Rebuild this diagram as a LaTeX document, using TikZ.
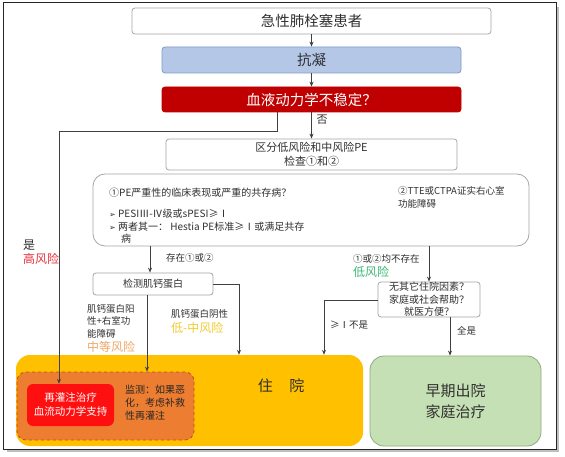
\documentclass[tikz,border=0pt]{standalone}
\usepackage{fontspec}
\setmainfont{Noto Sans CJK SC}
\newfontfamily\dejavu{DejaVu Sans}
\usetikzlibrary{arrows.meta,calc}
\definecolor{linec}{HTML}{404040}
\definecolor{txt}{HTML}{303030}
\definecolor{boxborder}{HTML}{A6A6A6}
\definecolor{blueF}{HTML}{B4C7E7}
\definecolor{blueD}{HTML}{7F9CC8}
\definecolor{redD}{HTML}{C00000}
\definecolor{yel}{HTML}{FFC000}
\definecolor{orangeF}{HTML}{ED7D31}
\definecolor{orangeD}{HTML}{B85412}
\definecolor{redB}{HTML}{FF1010}
\definecolor{greenF}{HTML}{C5E0B4}
\definecolor{greenD}{HTML}{8DAE7A}
\definecolor{hiRed}{HTML}{E5323B}
\definecolor{lowG}{HTML}{3CB878}
\definecolor{midO}{HTML}{F0A868}
\definecolor{lmY}{HTML}{F2CC30}
\tikzset{
  box/.style={draw=boxborder, line width=0.8pt, fill=white, rounded corners=3pt, inner sep=0pt, text=txt},
  conn/.style={draw=linec, line width=0.8pt},
  arr/.style={conn, -{Stealth[length=5pt,width=4pt]}},
  lbl/.style={inner sep=0pt, text=txt, font=\fontsize{9.5}{12.5}\selectfont, align=left},
  crit/.style={lbl, font=\fontsize{10}{12.5}\selectfont},
  big/.style={font=\fontsize{14.5}{17}\selectfont},
}
\begin{document}
\begin{tikzpicture}[x=1pt,y=-1pt]
\useasboundingbox (0,0) rectangle (565,457);
% frame with shadow
\fill[black!25] (7,7) rectangle (559,452);
\draw[fill=white, line width=1pt, draw=black!85] (3,3) rectangle (556,449);

% top chain
\node[box, big, minimum width=359pt, minimum height=26pt] (n1) at (311.5,21) {急性肺栓塞患者};
\node[box, big, fill=blueF, draw=blueD, minimum width=299pt, minimum height=26pt] (n2) at (311.5,60) {抗凝};
\node[box, big, fill=redD, draw=redD, text=white, minimum width=299pt, minimum height=25pt] (n3) at (311.5,99.5) {血液动力学不稳定？};
\node[box, font=\fontsize{11}{14}\selectfont, align=center, minimum width=291pt, minimum height=31pt] (n4) at (311.5,154.5) {区分低风险和中风险PE\\检查①和②};

% big criteria box
\node[box, rounded corners=12pt, minimum width=436pt, minimum height=72pt] (n5) at (311,210) {};
\node[crit, anchor=west] (t1) at (109,193) {①PE严重性的临床表现或严重的共存病？};
\node[crit, anchor=west] (t2) at (109,214) {{\dejavu\fontsize{8}{10}\selectfont ➢} PESIⅢ-Ⅳ级或sPESI≥Ⅰ};
\node[crit, anchor=west] (t3) at (109,226.5) {{\dejavu\fontsize{8}{10}\selectfont ➢} 两者其一： Hestia PE标准≥Ⅰ或满足共存};
\node[crit, anchor=west] (t4) at (121,238.5) {病};
\node[lbl, anchor=west] (t5) at (398,197.5) {②TTE或CTPA证实右心室\\功能障碍};

% troponin & discharge question
\node[box, font=\fontsize{10}{12}\selectfont, minimum width=120pt, minimum height=22pt] (n6) at (153,284) {检测肌钙蛋白};
\node[box, font=\fontsize{10}{12.5}\selectfont, align=center, minimum width=102pt, minimum height=35pt] (n7) at (429,299.5) {无其它住院因素？\\家庭或社会帮助？\\就医方便？};

% bottom boxes
\node[fill=yel, rounded corners=14pt, minimum width=347pt, minimum height=91pt, inner sep=0pt] (n8) at (189.5,400.5) {};
\node[inner sep=0pt, text=txt, font=\fontsize{15}{18}\selectfont] (zy) at (281,386) {住\hspace{1.1em}院};
\node[fill=orangeF, draw=orangeD, dashed, line width=0.8pt, rounded corners=9pt, minimum width=177pt, minimum height=68pt, inner sep=0pt] (n9) at (105.5,406) {};
\node[fill=redB, rounded corners=6pt, minimum width=87pt, minimum height=42pt, inner sep=0pt, text=white, align=center, font=\fontsize{10.5}{14}\selectfont] (n10) at (70.5,405) {再灌注治疗\\血流动力学支持};
\node[lbl, anchor=west, text=black!85, font=\fontsize{10}{13}\selectfont] (jc) at (125,403) {监测：如果恶\\化，考虑补救\\性再灌注};
\node[fill=greenF, draw=greenD, line width=0.8pt, rounded corners=14pt, minimum width=171pt, minimum height=90pt, inner sep=0pt, align=center, text=txt, font=\fontsize{15}{21}\selectfont] (n11) at (455.5,401) {早期出院\\家庭治疗};

% connectors
\draw[arr] (n1) -- (n2);
\draw[arr] (n2) -- (n3);
\draw[arr] (n3) -- (n4);
\node[lbl, font=\fontsize{11}{13}\selectfont] (no) at (322,120) {否};
\coordinate (h1) at (277,131);
\coordinate (h2) at (59,131);
\draw[arr] (h1 |- n3.south) -- (h1) -- (h2) -- (h2 |- n10.north);
\node[lbl, anchor=west, font=\fontsize{12}{15}\selectfont] (yes) at (23,245) {是};
\node[lbl, anchor=west, text=hiRed, font=\fontsize{12}{15}\selectfont] (hr) at (23,258.5) {高风险};

\coordinate (c1) at (150,0);
\draw[arr] (c1 |- n5.south) -- (c1 |- n6.north);
\node[lbl, anchor=west] (cz) at (166,258) {存在①或②};

\coordinate (c2) at (429,0);
\draw[arr] (c2 |- n5.south) -- (c2 |- n7.north);
\node[lbl, anchor=west] (bcz) at (353,259) {①或②均不存在};
\node[lbl, anchor=west, text=lowG, font=\fontsize{12}{15}\selectfont] (lr) at (353,272) {低风险};

\coordinate (r1) at (239,284);
\draw[arr] (n6.east) -- (r1) -- (r1 |- n8.north);
\node[lbl, anchor=west] (neg) at (171,314) {肌钙蛋白阴性};
\node[lbl, anchor=west, text=lmY, font=\fontsize{12}{15}\selectfont] (lm) at (171,328) {低-中风险};

\coordinate (c3) at (147,0);
\draw[arr] (c3 |- n6.south) -- (c3 |- n9.north);
\node[lbl, anchor=west] (pos) at (87,321) {肌钙蛋白阳\\性+右室功\\能障碍};
\node[lbl, anchor=west, text=midO, font=\fontsize{12}{15}\selectfont] (mr) at (87,347) {中等风险};

\coordinate (l1) at (324,300);
\draw[arr] (n7.west |- l1) -- (l1) -- (l1 |- n8.north);
\node[lbl, anchor=west] (ge) at (330,325) {≥Ⅰ不是};

\coordinate (c4) at (450,0);
\draw[arr] (c4 |- n7.south) -- (c4 |- n11.north);
\node[lbl, anchor=west] (qs) at (457,331) {全是};
\end{tikzpicture}
\end{document}
